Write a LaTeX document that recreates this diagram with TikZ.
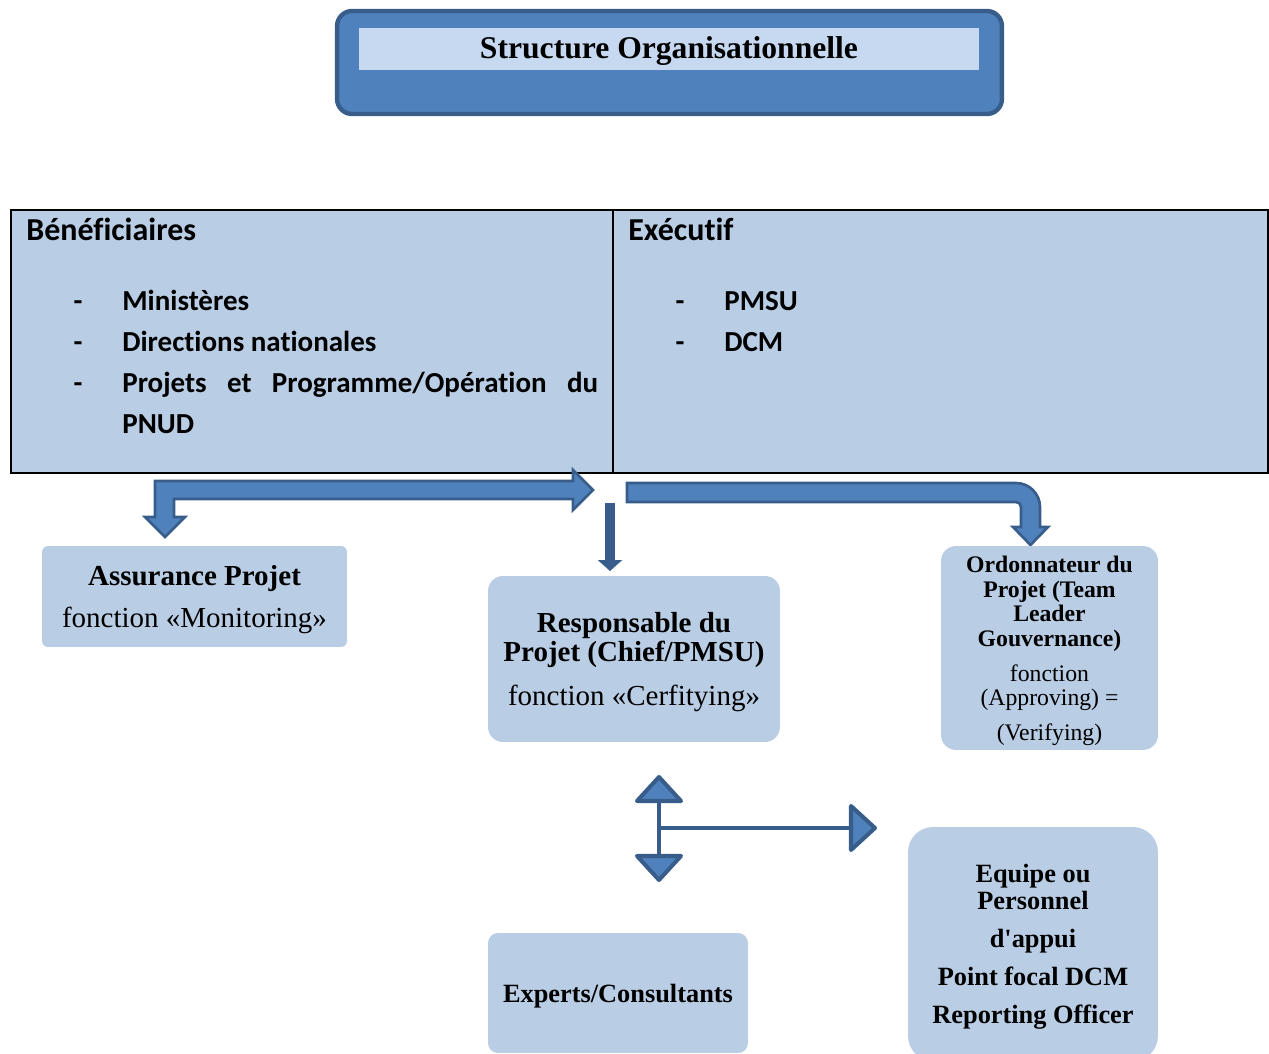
\documentclass[tikz,border=0pt]{standalone}
\usepackage{fontspec}
\setmainfont{Liberation Serif}
\newfontfamily\calibri[Ligatures=NoCommon]{Carlito}
\usetikzlibrary{arrows.meta}
\definecolor{boxblue}{HTML}{B9CDE5}
\definecolor{arrowblue}{HTML}{4F81BD}
\definecolor{edgeblue}{HTML}{385D8A}
\definecolor{titleblue}{HTML}{C6D9F1}

\begin{document}
\begin{tikzpicture}[x=0.02cm,y=-0.02cm,
	card/.style={fill=boxblue,inner sep=0pt},
	cardtext/.style={align=center,inner sep=0pt,yshift=-1.7pt},
	cellbox/.style={draw=black,fill=boxblue,line width=1.2pt,inner sep=0pt,minimum height=5.26cm},
	celltext/.style={anchor=base west,inner sep=0pt,font=\calibri\bfseries\fontsize{16.5}{23.2}\selectfont},
	cellhead/.style={celltext,font=\calibri\bfseries\fontsize{18.2}{22}\selectfont},
	itemdash/.style={celltext,anchor=base},
	blockarrow/.style={fill=arrowblue,draw=edgeblue,line width=1.5pt},
	head/.style={fill=arrowblue,draw=edgeblue,line width=2.3pt,line join=round},
	stem/.style={draw=edgeblue,line width=2.8pt}]
		\useasboundingbox (0,0) rectangle (1269,1054);
		\clip (0,0) rectangle (1269,1054);
		\node[draw=edgeblue,line width=2.5pt,fill=arrowblue,rounded corners=0.3cm,minimum width=13.3cm,minimum height=2.06cm] (frame) at (669.5,62.5) {};
		\node[fill=titleblue,minimum width=12.4cm,minimum height=0.84cm] (band) at (669,49) {};
		\node[cardtext,yshift=0.6pt,font=\fontsize{18}{20}\selectfont\bfseries] (title) at (band.center) {Structure Organisationnelle};
		\node[cellbox,minimum width=12.04cm] (left) at (312,341.5) {};
		\node[cellbox,minimum width=13.1cm] (right) at (940.5,341.5) {};
		\node[cellhead] (benef) at (26,241) {Bénéficiaires};
		\node[itemdash] (d1) at (78,311) {-};
		\node[itemdash] (d2) at (78,352) {-};
		\node[itemdash] (d3) at (78,393) {-};
		\node[celltext] (min) at (122,311) {Ministères};
		\node[celltext] (dir) at (122,352) {Directions nationales};
		\node[celltext,text width=9.52cm,align=justify] (proj) at (122,393) {Projets et Programme/Opération du PNUD};
		\node[cellhead] (exec) at (628,241) {Exécutif};
		\node[itemdash] (d4) at (680,311) {-};
		\node[itemdash] (d5) at (680,352) {-};
		\node[celltext] (pmsu) at (724,311) {PMSU};
		\node[celltext] (dcm) at (724,352) {DCM};
		\draw[blockarrow] (593,490) -- (573,470) -- (573,481) -- (155,481) -- (155,517) -- (145,517) -- (165,537) -- (185,517) -- (174,517) -- (174,499) -- (573,499) -- (573,510) -- cycle;
		\draw[edgeblue,line width=5.5pt,-{Triangle[width=0.48cm,length=0.22cm]}] (610,503) -- (610,571);
		\draw[blockarrow] (627,483) -- (1016,483) arc[start angle=90,end angle=0,radius=0.48cm] -- (1040,527) -- (1048,527) -- (1030.5,545) -- (1013,527) -- (1021,527) -- (1021,507) arc[start angle=0,end angle=90,radius=0.1cm] -- (627,502) -- cycle;
		\node[card,rounded corners=0.12cm,minimum width=6.1cm,minimum height=2.02cm] (assur) at (194.5,596.5) {};
		\node[cardtext,font=\fontsize{16.5}{19}\selectfont] (assurtext) at (assur.center) {\textbf{Assurance Projet}\\[5pt]fonction «Monitoring»};
		\node[card,rounded corners=0.3cm,minimum width=5.84cm,minimum height=3.32cm] (chief) at (634,659) {};
		\node[cardtext,font=\fontsize{16.5}{17}\selectfont] (chieftext) at (chief.center) {\textbf{Responsable du}\\\textbf{Projet (Chief/PMSU)}\\[8pt]fonction «Cerfitying»};
		\node[card,rounded corners=0.3cm,minimum width=4.34cm,minimum height=4.08cm] (ordo) at (1049.5,648) {};
		\node[cardtext,font=\fontsize{13.5}{14}\selectfont] (ordotext) at (ordo.center) {\textbf{Ordonnateur du}\\\textbf{Projet (Team}\\\textbf{Leader}\\\textbf{Gouvernance)}\\[5.8pt]fonction\\(Approving) =\\[5.8pt](Verifying)};
		\node[card,rounded corners=0.2cm,minimum width=5.2cm,minimum height=2.4cm] (experts) at (618,993) {};
		\node[cardtext,font=\fontsize{15}{17}\selectfont\bfseries] (expertstext) at (experts.center) {Experts/Consultants};
		\node[card,rounded corners=0.5cm,minimum width=5cm,minimum height=4.68cm] (equipe) at (1033,944) {};
		\node[cardtext,font=\fontsize{15}{15.3}\selectfont\bfseries] (equipetext) at (equipe.center) {Equipe ou\\Personnel\\[6.2pt]d\textquotesingle appui\\[6.7pt]Point focal DCM\\[6.2pt]Reporting Officer};
		\coordinate (hub) at (659,828);
		\draw[stem] (659,800) -- (659,857);
		\draw[stem] (hub) -- (850,828);
		\draw[head] (637,801) -- (681,801) -- (659,777) -- cycle;
		\draw[head] (637,856) -- (681,856) -- (659,880) -- cycle;
		\draw[head] (851,806) -- (851,850) -- (875,828) -- cycle;
		\end{tikzpicture}
\end{document}
